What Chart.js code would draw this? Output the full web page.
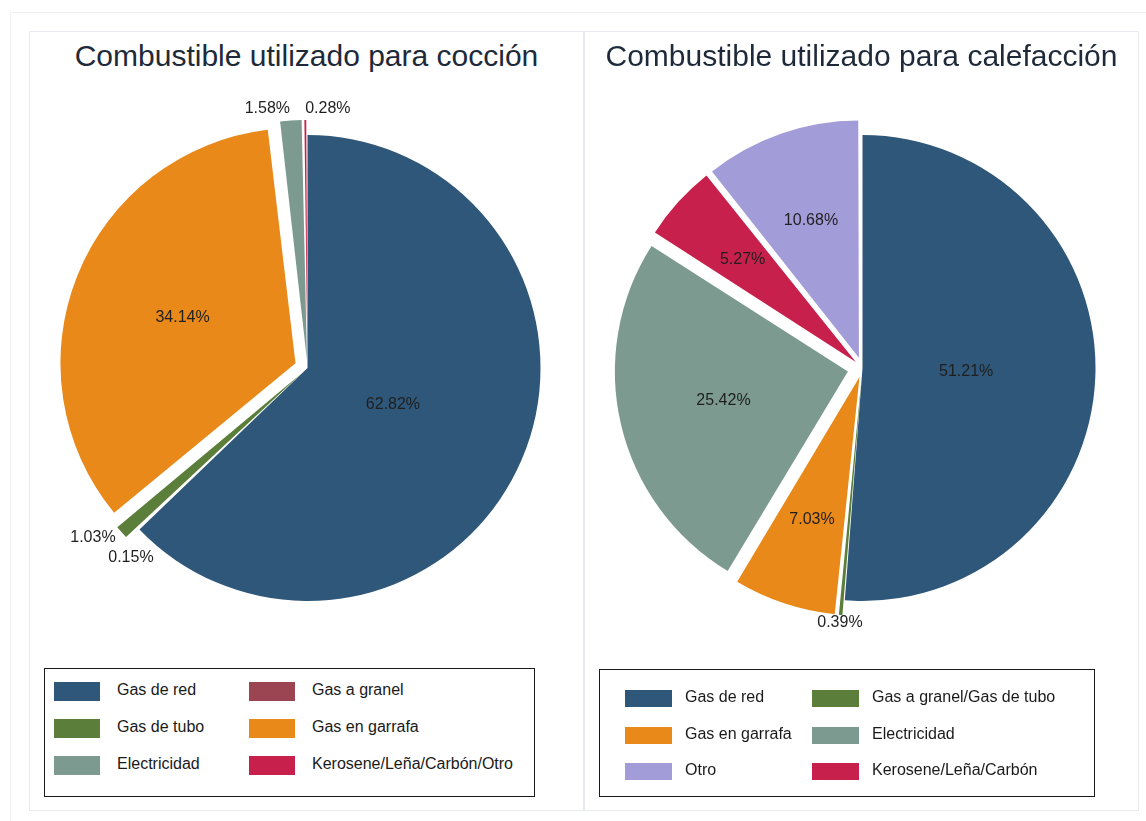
<!DOCTYPE html>
<html>
<head>
<meta charset="utf-8">
<script src="https://cdn.jsdelivr.net/npm/chart.js@4.4.1/dist/chart.umd.min.js"></script>
<style>
    body { margin: 0; background: #fff; font-family: "Liberation Sans", Arial, sans-serif; }
    #page { position: relative; width: 1146px; height: 821px; overflow: hidden; }
    .frame { position: absolute; left: 10px; top: 12px; width: 1150px; height: 830px; border: 1px solid #eef1f4; }
    .panel { position: absolute; top: 31px; width: 555px; height: 780px; border: 1px solid #e6eaee; box-sizing: border-box; }
    .title { position: absolute; left: 0; right: 0; top: 7px; text-align: center; font-size: 30px; color: #1e2a3a; white-space: nowrap; }
    .pie { position: absolute; left: 0; top: 58px; }
    .legend { position: absolute; border: 1.5px solid #1a1a1a; box-sizing: border-box; }
    .item { position: absolute; font-size: 16px; color: #1a1a1a; white-space: nowrap; }
    .swatch { position: absolute; }
</style>
</head>
<body>
<div id="page">
    <div class="frame"></div>
    <div class="panel" id="panelCook" style="left:29px">
        <div class="title">Combustible utilizado para cocción</div>
        <canvas class="pie" id="cookChart" width="555" height="556"></canvas>
    </div>
    <div class="panel" id="panelHeat" style="left:584px">
        <div class="title">Combustible utilizado para calefacción</div>
        <canvas class="pie" id="heatChart" width="555" height="556"></canvas>
    </div>
</div>
<script>
    'use strict';

    // cocción
    var cookLabels = ['Gas de red', 'Gas a granel', 'Gas de tubo', 'Gas en garrafa', 'Electricidad', 'Kerosene/Leña/Carbón/Otro'];
    var cookValues = [62.82, 0.15, 1.03, 34.14, 1.58, 0.28];
    var cookColors = ['#2e5779', '#9b4552', '#5b7e3a', '#e8891a', '#7c9a90', '#c8204c'];

    // calefacción
    var heatLabels = ['Gas de red', 'Gas a granel/Gas de tubo', 'Gas en garrafa', 'Electricidad', 'Kerosene/Leña/Carbón', 'Otro'];
    var heatValues = [51.21, 0.39, 7.03, 25.42, 5.27, 10.68];
    var heatColors = ['#2e5779', '#5b7e3a', '#e8891a', '#7c9a90', '#c8204c', '#a29cd8'];

    // where each percentage label goes: inside the slice, or outside with an alignment
    var cookLabelPlace = [{ inside: true }, { align: 'left', gap: 27 }, { align: 'right', gap: 8 },
        { inside: true }, { align: 'right', gap: 12 }, { align: 'left', gap: 11 }];
    var heatLabelPlace = [{ inside: true }, { align: 'center', gap: 8 }, { inside: true },
        { inside: true }, { inside: true }, { inside: true }];

    var EXPLODE = 15;

    /**
     * Chart.js moves an arc by offset/4 * (2 - sin(angle)), so work back from the push we want.
     */
    function sliceShift(value, total, offset) {
        var circ = 2 * Math.PI * value / total;
        return offset / 4 * (2 - Math.sin(Math.min(Math.PI, circ)));
    }

    function explodeOffsets(values) {
        var total = values.reduce(function(a, b) { return a + b; }, 0);
        return values.map(function(v, i) {
            if (i === 0) {
                return 0;
            }
            var circ = 2 * Math.PI * v / total;
            return 4 * EXPLODE / (2 - Math.sin(Math.min(Math.PI, circ)));
        });
    }

    var pctLabels = {
        id: 'pctLabels',
        afterDatasetsDraw: function(chart) {
            var ctx = chart.ctx;
            var meta = chart.getDatasetMeta(0);
            var values = chart.data.datasets[0].data;
            var places = chart.options.plugins.pctLabels.places;
            var total = values.reduce(function(a, b) { return a + b; }, 0);
            ctx.save();
            ctx.font = '16px "Liberation Sans", Arial, sans-serif';
            ctx.fillStyle = '#1f1f1f';
            ctx.textBaseline = 'middle';
            meta.data.forEach(function(arc, i) {
                var p = arc.getProps(['x', 'y', 'startAngle', 'endAngle', 'outerRadius']);
                var mid = (p.startAngle + p.endAngle) / 2;
                var shift = sliceShift(values[i], total, arc.options.offset || 0);
                var place = places[i];
                var d;
                if (place.inside) {
                    d = p.outerRadius * (0.65 - 0.4 * values[i] / total) + shift;
                    ctx.textAlign = 'center';
                } else {
                    d = p.outerRadius + shift + place.gap;
                    ctx.textAlign = place.align;
                }
                ctx.fillText(values[i].toFixed(2) + '%', p.x + Math.cos(mid) * d, p.y + Math.sin(mid) * d);
            });
            ctx.restore();
        }
    };

    function makePie(canvasId, labels, values, colors, places) {
        return new Chart(document.getElementById(canvasId), {
            type: 'pie',
            data: {
                labels: labels,
                datasets: [{
                    data: values,
                    backgroundColor: colors,
                    borderWidth: 0,
                    offset: explodeOffsets(values),
                    radius: 233
                }]
            },
            options: {
                responsive: false,
                animation: false,
                devicePixelRatio: 1,
                layout: { padding: 0 },
                plugins: {
                    legend: { display: false },
                    tooltip: { enabled: false },
                    pctLabels: { places: places }
                }
            },
            plugins: [pctLabels]
        });
    }

    function makeLegend(panelId, chart, order, box, layout) {
        var panel = document.getElementById(panelId);
        var legend = document.createElement('div');
        legend.className = 'legend';
        legend.style.left = box.left + 'px';
        legend.style.top = box.top + 'px';
        legend.style.width = box.width + 'px';
        legend.style.height = box.height + 'px';
        var ds = chart.data.datasets[0];
        order.forEach(function(idx, n) {
            var col = n % 2, row = Math.floor(n / 2);
            var cy = layout.rows[row];
            var sw = document.createElement('div');
            sw.className = 'swatch';
            sw.style.left = layout.swatchX[col] + 'px';
            sw.style.top = (cy - layout.swatchH / 2) + 'px';
            sw.style.width = layout.swatchW + 'px';
            sw.style.height = layout.swatchH + 'px';
            sw.style.background = ds.backgroundColor[idx];
            legend.appendChild(sw);
            var txt = document.createElement('div');
            txt.className = 'item';
            txt.textContent = chart.data.labels[idx];
            txt.style.left = layout.textX[col] + 'px';
            txt.style.top = (cy - 10) + 'px';
            legend.appendChild(txt);
        });
        panel.appendChild(legend);
    }

    var cookChart = makePie('cookChart', cookLabels, cookValues, cookColors, cookLabelPlace);
    var heatChart = makePie('heatChart', heatLabels, heatValues, heatColors, heatLabelPlace);

    makeLegend('panelCook', cookChart, [0, 1, 2, 3, 4, 5],
        { left: 14, top: 636, width: 491, height: 129 },
        { swatchX: [9, 204], textX: [72, 267], rows: [22, 59, 96], swatchW: 46, swatchH: 19 });
    makeLegend('panelHeat', heatChart, [0, 1, 2, 3, 5, 4],
        { left: 14, top: 637, width: 496, height: 128 },
        { swatchX: [25, 212], textX: [85, 272], rows: [28, 65, 101], swatchW: 47, swatchH: 17 });
</script>
</body>
</html>
